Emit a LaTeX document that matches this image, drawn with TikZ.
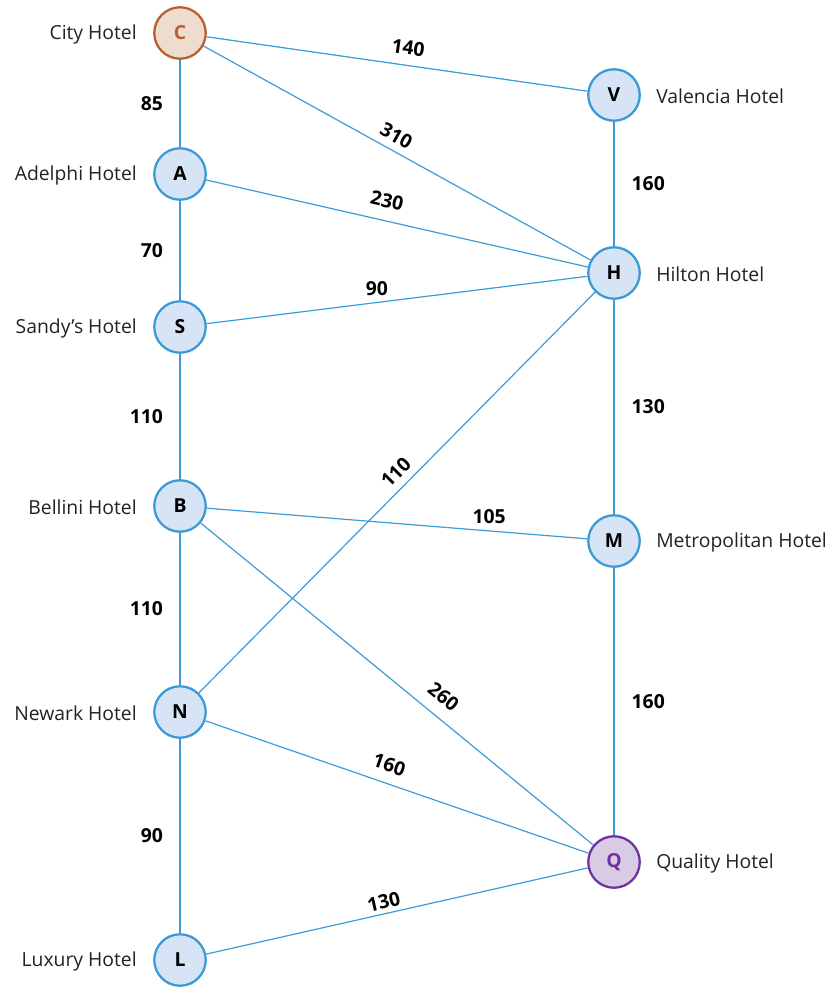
\documentclass[tikz,border=0pt]{standalone}
\usepackage{fontspec}
\setmainfont{Open Sans}
\definecolor{edgeblue}{HTML}{3D9BD8}
\definecolor{nodeblue}{HTML}{3A9AD8}
\definecolor{nodefill}{HTML}{D6E4F5}
\definecolor{cborder}{HTML}{B85F2A}
\definecolor{cfill}{HTML}{EEDCCF}
\definecolor{qborder}{HTML}{7031A0}
\definecolor{qfill}{HTML}{D8CBE4}
\definecolor{nametext}{HTML}{222222}
\tikzset{
  hotel/.style={circle, draw=nodeblue, fill=nodefill, line width=1.7pt, minimum size=38.6pt, inner sep=0pt, font=\bfseries\fontsize{14.5}{17}\selectfont},
  cityhotel/.style={hotel, draw=cborder, fill=cfill, text=cborder},
  qualhotel/.style={hotel, draw=qborder, fill=qfill, text=qborder},
  hname/.style={inner sep=0pt, text=nametext, yshift=-1.2pt, font=\fontsize{14.5}{17}\selectfont},
  link/.style={draw=edgeblue, line width=0.9pt},
  wt/.style={inner sep=0pt, font=\bfseries\fontsize{14.5}{17}\selectfont},
  wl/.style={wt, pos=0.5, anchor=east, xshift=-12.4pt},
  wr/.style={wt, pos=0.5, anchor=west, xshift=12.8pt},
}
\begin{document}
\begin{tikzpicture}[x=0.75pt, y=-0.75pt]
\useasboundingbox (0,0) rectangle (832,987);
% nodes
\node[cityhotel] (C) at (180,33) {C};
\node[hotel] (A) at (180,174) {A};
\node[hotel] (S) at (180,327) {S};
\node[hotel] (B) at (180,506) {B};
\node[hotel] (N) at (180,712) {N};
\node[hotel] (L) at (180,960) {L};
\node[hotel] (V) at (614,95) {V};
\node[hotel] (H) at (614,273) {H};
\node[hotel] (M) at (614,541) {M};
\node[qualhotel] (Q) at (614,862) {Q};
% names
\node[hname, anchor=east] (nC) at (137,33) {City Hotel};
\node[hname, anchor=east] (nA) at (137,174) {Adelphi Hotel};
\node[hname, anchor=east] (nS) at (137,327) {Sandy’s Hotel};
\node[hname, anchor=east] (nB) at (137,506) {Bellini Hotel};
\node[hname, anchor=east] (nN) at (137,712) {Newark Hotel};
\node[hname, anchor=east] (nL) at (137,960) {Luxury Hotel};
\node[hname, anchor=west] (nV) at (656,95) {Valencia Hotel};
\node[hname, anchor=west] (nH) at (656,273) {Hilton Hotel};
\node[hname, anchor=west] (nM) at (656,541) {Metropolitan Hotel};
\node[hname, anchor=west] (nQ) at (656,862) {Quality Hotel};
% vertical edges
\draw[link] (C) -- node[wl] {85} (A);
\draw[link] (A) -- node[wl] {70} (S);
\draw[link] (S) -- node[wl] {110} (B);
\draw[link] (B) -- node[wl] {110} (N);
\draw[link] (N) -- node[wl] {90} (L);
\draw[link] (V) -- node[wr] {160} (H);
\draw[link] (H) -- node[wr] {130} (M);
\draw[link] (M) -- node[wr] {160} (Q);
% diagonal edges
\draw[link] (C) -- node[wt, pos=0.523, sloped, above=7.4pt] {140} (V);
\draw[link] (C) -- node[wt, pos=0.48, sloped, above=5.3pt] {310} (H);
\draw[link] (A) -- node[wt, pos=0.462, sloped, above=9.3pt] {230} (H);
\draw[link] (S) -- node[wt, pos=0.447, above=4.7pt] {90} (H);
\draw[link] (N) -- node[wt, pos=0.524, sloped, above=5.5pt] {110} (H);
\draw[link] (B) -- node[wt, pos=0.742, above=5pt] {105} (M);
\draw[link] (B) -- node[wt, pos=0.587, sloped, above=8.9pt] {260} (Q);
\draw[link] (N) -- node[wt, pos=0.464, sloped, above=8.1pt] {160} (Q);
\draw[link] (L) -- node[wt, pos=0.472, sloped, above=3.2pt] {130} (Q);
\end{tikzpicture}
\end{document}
